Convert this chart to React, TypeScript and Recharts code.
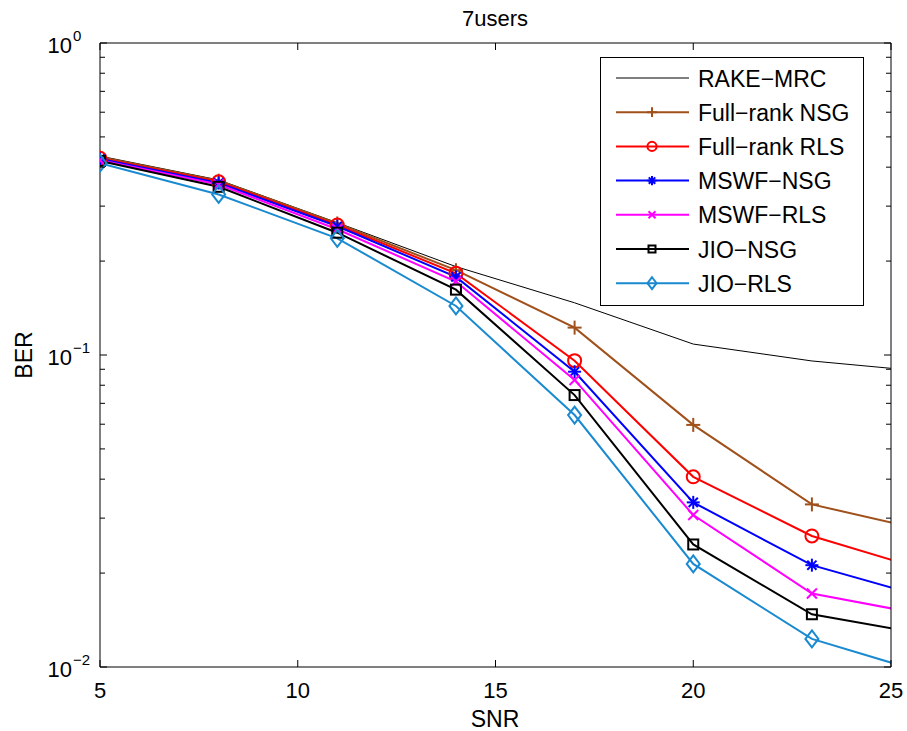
import { LineChart, Line, XAxis, YAxis, Customized } from "recharts";

// SNR points (every 3 dB, last point lies past the axis limit and gets clipped)
const snr = [5, 8, 11, 14, 17, 20, 23, 26];

const rakeMrc = [0.434, 0.364, 0.2655, 0.192, 0.147, 0.1084, 0.0957, 0.0882];
const fullRankNsg = [0.431, 0.362, 0.264, 0.187, 0.1224, 0.0597, 0.0332, 0.0272];
const fullRankRls = [0.427, 0.359, 0.261, 0.1827, 0.0959, 0.0407, 0.0263, 0.0202];
const mswfNsg = [0.425, 0.356, 0.2587, 0.178, 0.0884, 0.0337, 0.0212, 0.01656];
const mswfRls = [0.421, 0.352, 0.253, 0.172, 0.0832, 0.0307, 0.0172, 0.01459];
const jioNsg = [0.419, 0.346, 0.2466, 0.162, 0.0744, 0.0247, 0.01476, 0.01263];
const jioRls = [0.412, 0.327, 0.2366, 0.1436, 0.0642, 0.0214, 0.0123, 0.00946];

const xTicks = [5, 10, 15, 20, 25];
const yMajorTicks = [0.01, 0.1, 1];
const yMinorTicks = [
    0.02, 0.03, 0.04, 0.05, 0.06, 0.07, 0.08, 0.09,
    0.2, 0.3, 0.4, 0.5, 0.6, 0.7, 0.8, 0.9,
];
const yExponents: Record<string, string> = { "1": "0", "0.1": "\u22121", "0.01": "\u22122" };

const TITLE = "7users";
const X_LABEL = "SNR";
const Y_LABEL = "BER";

type MarkerKind = "none" | "plus" | "circle" | "star" | "cross" | "square" | "diamond";

interface Series {
    key: string;
    name: string;
    color: string;
    width: number;
    marker: MarkerKind;
}

const SERIES: Series[] = [
    { key: "rake", name: "RAKE\u2212MRC", color: "#000000", width: 1, marker: "none" },
    { key: "frNsg", name: "Full\u2212rank NSG", color: "#a0501a", width: 2, marker: "plus" },
    { key: "frRls", name: "Full\u2212rank RLS", color: "#ff0000", width: 2, marker: "circle" },
    { key: "mswfNsg", name: "MSWF\u2212NSG", color: "#0000ff", width: 2, marker: "star" },
    { key: "mswfRls", name: "MSWF\u2212RLS", color: "#ff00ff", width: 2, marker: "cross" },
    { key: "jioNsg", name: "JIO\u2212NSG", color: "#000000", width: 2, marker: "square" },
    { key: "jioRls", name: "JIO\u2212RLS", color: "#1a8ad0", width: 2, marker: "diamond" },
];

const data = snr.map((s, i) => ({
    snr: s,
    rake: rakeMrc[i],
    frNsg: fullRankNsg[i],
    frRls: fullRankRls[i],
    mswfNsg: mswfNsg[i],
    mswfRls: mswfRls[i],
    jioNsg: jioNsg[i],
    jioRls: jioRls[i],
}));

const W = 907;
const H = 731;
const LEFT = 100;
const TOP = 43;
const RIGHT = 891;
const BOTTOM = 667;
const FONT = "'Liberation Sans', Arial, Helvetica, sans-serif";

function Marker({ kind, cx, cy, color, s = 1 }: { kind: MarkerKind; cx: number; cy: number; color: string; s?: number }) {
    const sw = 2;
    switch (kind) {
        case "plus":
            return (
                <g stroke={color} strokeWidth={sw}>
                    <line x1={cx - 7 * s} x2={cx + 7 * s} y1={cy} y2={cy} />
                    <line x1={cx} x2={cx} y1={cy - 7 * s} y2={cy + 7 * s} />
                </g>
            );
        case "circle":
            return <circle cx={cx} cy={cy} r={6.5 * s} fill="none" stroke={color} strokeWidth={sw} />;
        case "star":
            return (
                <g stroke={color} strokeWidth={sw}>
                    <line x1={cx - 6.5 * s} x2={cx + 6.5 * s} y1={cy} y2={cy} />
                    <line x1={cx} x2={cx} y1={cy - 6.5 * s} y2={cy + 6.5 * s} />
                    <line x1={cx - 4.6 * s} x2={cx + 4.6 * s} y1={cy - 4.6 * s} y2={cy + 4.6 * s} />
                    <line x1={cx - 4.6 * s} x2={cx + 4.6 * s} y1={cy + 4.6 * s} y2={cy - 4.6 * s} />
                </g>
            );
        case "cross":
            return (
                <g stroke={color} strokeWidth={sw}>
                    <line x1={cx - 5 * s} x2={cx + 5 * s} y1={cy - 5 * s} y2={cy + 5 * s} />
                    <line x1={cx - 5 * s} x2={cx + 5 * s} y1={cy + 5 * s} y2={cy - 5 * s} />
                </g>
            );
        case "square":
            return (
                <rect x={cx - 5 * s} y={cy - 5 * s} width={10 * s} height={10 * s} fill="none" stroke={color} strokeWidth={sw} />
            );
        case "diamond":
            return (
                <polygon
                    points={`${cx},${cy - 8.5 * s} ${cx + 6.5 * s},${cy} ${cx},${cy + 8.5 * s} ${cx - 6.5 * s},${cy}`}
                    fill="none"
                    stroke={color}
                    strokeWidth={sw}
                />
            );
        default:
            return null;
    }
}

// matlab style ticks: pointing into the plot box
function BottomTick(props: any) {
    const { x, payload } = props;
    return (
        <g>
            <line x1={x} x2={x} y1={BOTTOM} y2={BOTTOM - 7} stroke="#000" strokeWidth={1} />
            <text x={x} y={698} textAnchor="middle" fontSize={22} fontFamily={FONT} fill="#000">
                {payload.value}
            </text>
        </g>
    );
}

function TopTick(props: any) {
    const { x } = props;
    return <line x1={x} x2={x} y1={TOP} y2={TOP + 7} stroke="#000" strokeWidth={1} />;
}

function LeftTick(props: any) {
    const { y, payload } = props;
    const exp = yExponents[String(payload.value)];
    const len = exp !== undefined ? 7 : 5;
    return (
        <g>
            <line x1={LEFT} x2={LEFT + len} y1={y} y2={y} stroke="#000" strokeWidth={1} />
            {exp !== undefined && (
                <g fontFamily={FONT} fill="#000">
                    <text x={72} y={y + 10} textAnchor="end" fontSize={22}>10</text>
                    <text x={73} y={y - 2} textAnchor="start" fontSize={15}>{exp}</text>
                </g>
            )}
        </g>
    );
}

function RightTick(props: any) {
    const { y, payload } = props;
    const len = yExponents[String(payload.value)] !== undefined ? 7 : 5;
    return <line x1={RIGHT} x2={RIGHT - len} y1={y} y2={y} stroke="#000" strokeWidth={1} />;
}

// legend drawn inside the chart svg so it doesn't take layout space
function LegendBox() {
    return (
        <g transform="translate(600, 57)">
            <rect x={0.5} y={0.5} width={263} height={248} fill="#fff" stroke="#000" strokeWidth={1} />
            {SERIES.map((s, i) => {
                const cy = 21 + i * 34.2;
                return (
                    <g key={s.key}>
                        <line x1={16} x2={89} y1={cy} y2={cy} stroke={s.color} strokeWidth={s.width} />
                        <Marker kind={s.marker} cx={52} cy={cy} color={s.color} s={0.7} />
                        <text x={98} y={cy + 8.5} fontSize={23} fontFamily={FONT} fill="#000">
                            {s.name}
                        </text>
                    </g>
                );
            })}
        </g>
    );
}

function Labels() {
    return (
        <g fontFamily={FONT} fill="#000">
            <text x={495} y={26} textAnchor="middle" fontSize={22}>{TITLE}</text>
            <text x={495} y={727} textAnchor="middle" fontSize={23}>{X_LABEL}</text>
            <text x={32} y={355} textAnchor="middle" fontSize={23} transform="rotate(-90, 32, 355)">{Y_LABEL}</text>
        </g>
    );
}

export default function App() {
    return (
        <div style={{ position: "absolute", left: 0, top: 0, background: "#fff" }}>
            <LineChart
                width={W}
                height={H}
                data={data}
                margin={{ top: TOP - 1, right: W - RIGHT - 1, bottom: H - BOTTOM - 1, left: LEFT - 1 }}
            >
                <XAxis
                    dataKey="snr"
                    type="number"
                    domain={[5, 25]}
                    allowDataOverflow
                    ticks={xTicks}
                    interval={0}
                    height={1}
                    tickLine={false}
                    axisLine={{ stroke: "#000", strokeWidth: 1 }}
                    tick={<BottomTick />}
                />
                <XAxis
                    xAxisId="top"
                    orientation="top"
                    dataKey="snr"
                    type="number"
                    domain={[5, 25]}
                    allowDataOverflow
                    ticks={xTicks}
                    interval={0}
                    height={1}
                    tickLine={false}
                    axisLine={{ stroke: "#000", strokeWidth: 1 }}
                    tick={<TopTick />}
                />
                <YAxis
                    type="number"
                    scale="log"
                    domain={[0.01, 1]}
                    allowDataOverflow
                    ticks={[...yMajorTicks, ...yMinorTicks]}
                    interval={0}
                    width={1}
                    tickLine={false}
                    axisLine={{ stroke: "#000", strokeWidth: 1 }}
                    tick={<LeftTick />}
                />
                <YAxis
                    yAxisId="right"
                    orientation="right"
                    type="number"
                    scale="log"
                    domain={[0.01, 1]}
                    allowDataOverflow
                    ticks={[...yMajorTicks, ...yMinorTicks]}
                    interval={0}
                    width={1}
                    tickLine={false}
                    axisLine={{ stroke: "#000", strokeWidth: 1 }}
                    tick={<RightTick />}
                />
                {SERIES.map((s) => (
                    <Line
                        key={s.key}
                        dataKey={s.key}
                        name={s.name}
                        type="linear"
                        stroke={s.color}
                        strokeWidth={s.width}
                        isAnimationActive={false}
                        dot={
                            s.marker === "none"
                                ? false
                                : (p: any) => (
                                      <g key={`${s.key}-${p.index}`}>
                                          <Marker kind={s.marker} cx={p.cx} cy={p.cy} color={s.color} />
                                      </g>
                                  )
                        }
                        activeDot={false}
                    />
                ))}
                <Customized component={<LegendBox />} />
                <Customized component={<Labels />} />
            </LineChart>
        </div>
    );
}
